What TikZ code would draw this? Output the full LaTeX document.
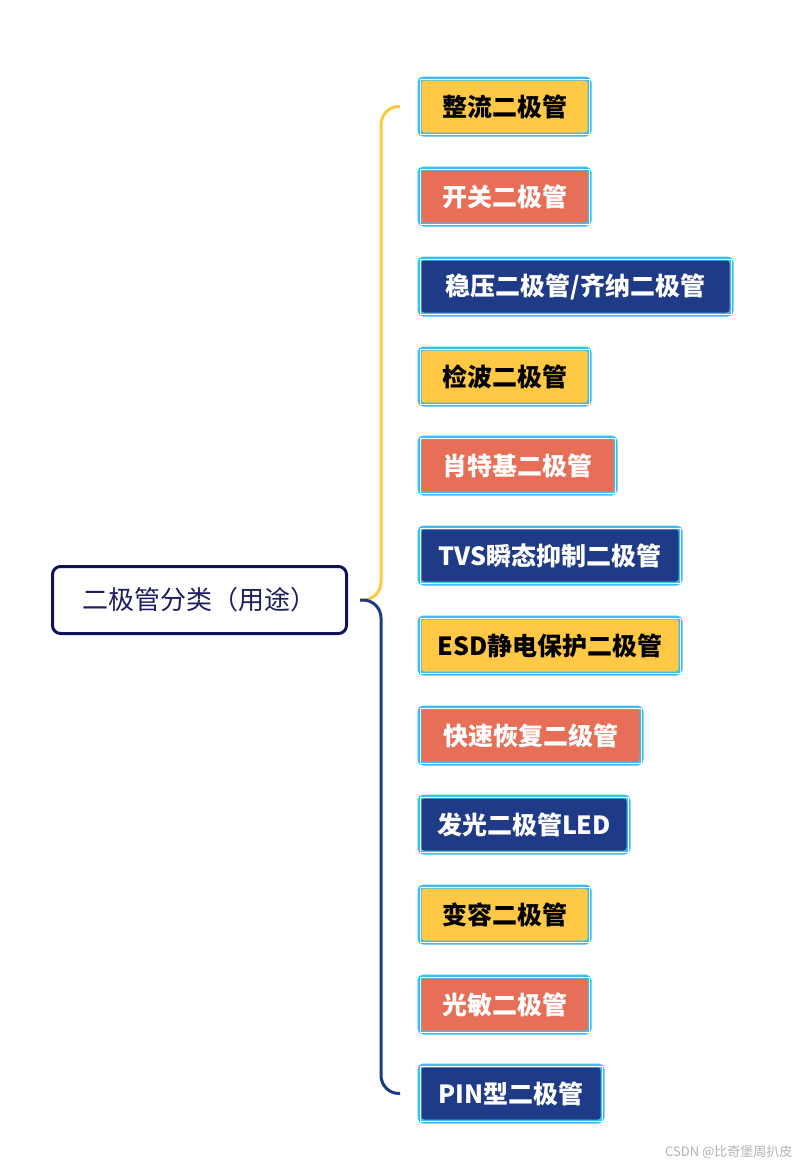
\documentclass[tikz,border=0pt]{standalone}
\usepackage{fontspec}
\setmainfont{Noto Sans CJK SC}
\usetikzlibrary{calc}
\definecolor{cyl}{HTML}{FFC845}
\definecolor{cor}{HTML}{E76F57}
\definecolor{cnv}{HTML}{1F3A86}
\definecolor{csky}{HTML}{3ABEF3}
\definecolor{croot}{HTML}{12125A}
\definecolor{crtext}{HTML}{1E1E5E}
\begin{document}
\begin{tikzpicture}[x=1pt,y=-1pt,
  leaf/.style={rectangle, draw=csky, line width=4pt, rounded corners=4pt,
    inner sep=0pt, minimum height=56pt, anchor=west,
    font=\fontsize{25}{29}\selectfont\bfseries},
  lyel/.style={leaf, fill=cyl, text=black},
  lora/.style={leaf, fill=cor, text=white},
  lnav/.style={leaf, fill=cnv, text=white},
  rootbox/.style={rectangle, draw=croot, line width=3pt, rounded corners=8pt,
    fill=white, minimum width=294pt, minimum height=67pt, inner sep=0pt,
    text=crtext, font=\fontsize{26}{30}\selectfont},
  conn/.style={line width=3pt, rounded corners=18pt}
]
\useasboundingbox (0,0) rectangle (807,1170);
\fill[white] (0,0) rectangle (807,1170);

\node[rootbox] (root) at (199.5,600) {二极管分类（用途）};

\node[lyel, minimum width=170pt] (l1) at (417.5,106.5) {整流二极管};
\node[lora, minimum width=170pt] (l2) at (417.5,196.5) {开关二极管};
\node[lnav, minimum width=312pt] (l3) at (417.5,286.5) {稳压二极管/齐纳二极管};
\node[lyel, minimum width=170pt] (l4) at (417.5,376.5) {检波二极管};
\node[lora, minimum width=196pt] (l5) at (417.5,465.5) {肖特基二极管};
\node[lnav, minimum width=261pt] (l6) at (417.5,555.5) {TVS瞬态抑制二极管};
\node[lyel, minimum width=261pt] (l7) at (417.5,645.5) {ESD静电保护二极管};
\node[lora, minimum width=222pt] (l8) at (417.5,735.5) {快速恢复二级管};
\node[lnav, minimum width=209pt] (l9) at (417.5,824.5) {发光二极管LED};
\node[lyel, minimum width=170pt] (l10) at (417.5,914.5) {变容二极管};
\node[lora, minimum width=170pt] (l11) at (417.5,1004.5) {光敏二极管};
\node[lnav, minimum width=183pt] (l12) at (417.5,1093.5) {PIN型二极管};

\foreach \n in {l1,l2,l3,l4,l5,l6,l7,l8,l9,l10,l11,l12}{
  \draw[white, line width=0.6pt] ($(\n.north west)+(2.6,2.6)$) rectangle ($(\n.south east)+(-2.6,-2.6)$);
}

\coordinate (j) at ($(root.east)+(12,0)$);
\draw[conn, cyl] (j) -- ++(21,0) |- ($(l1.west)+(-17.5,0)$);
\draw[conn, cnv] (j) -- ++(21,0) |- ($(l12.west)+(-17.5,0)$);

\node[text=black!30, font=\fontsize{13}{15}\selectfont, anchor=east] (wm) at (796,1152) {CSDN @比奇堡周扒皮};
\end{tikzpicture}
\end{document}
